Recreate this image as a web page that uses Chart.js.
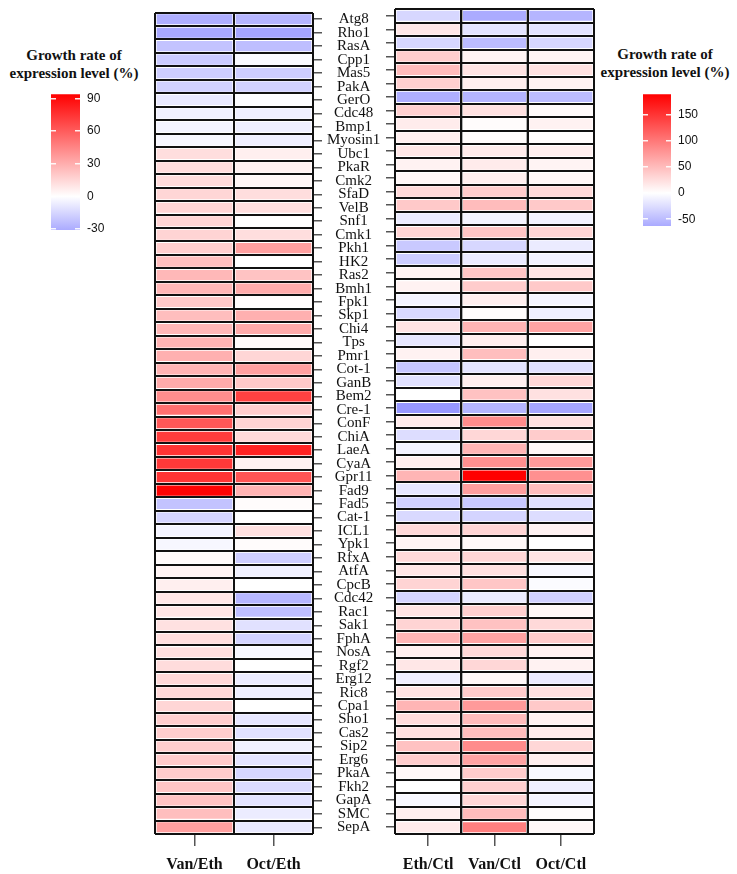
<!DOCTYPE html>
<html>
<head>
<meta charset="utf-8">
<script src="https://cdn.jsdelivr.net/npm/chart.js@4.4.1/dist/chart.umd.min.js"></script>
<style>
  body { margin: 0; background: #fff; }
  #page { position: relative; width: 737px; height: 874px; }
  .box { position: absolute; }
  .ttl { position: absolute; font: bold 15px "Liberation Serif", "Times New Roman", serif; line-height: 18px; text-align: center; color: #111; }
</style>
</head>
<body>
<div id="page">
  <div class="ttl" style="left:0; top:46px; width:148px;">Growth rate of<br>expression level (%)</div>
  <div class="ttl" style="left:600px; top:45px; width:130px;">Growth rate of<br>expression level (%)</div>
  <div class="box" style="left:0; top:80px; width:148px; height:165px"><canvas id="legLeft"></canvas></div>
  <div class="box" style="left:600px; top:80px; width:137px; height:165px"><canvas id="legRight"></canvas></div>
  <div class="box" style="left:140px; top:0; width:250px; height:874px"><canvas id="heatLeft"></canvas></div>
  <div class="box" style="left:380px; top:0; width:220px; height:874px"><canvas id="heatRight"></canvas></div>
</div>
<script>
const genes = ['Atg8','Rho1','RasA','Cpp1','Mas5','PakA','GerO','Cdc48','Bmp1','Myosin1',
  'Ubc1','PkaR','Cmk2','SfaD','VelB','Snf1','Cmk1','Pkh1','HK2','Ras2',
  'Bmh1','Fpk1','Skp1','Chi4','Tps','Pmr1','Cot-1','GanB','Bem2','Cre-1',
  'ConF','ChiA','LaeA','CyaA','Gpr11','Fad9','Fad5','Cat-1','ICL1','Ypk1',
  'RfxA','AtfA','CpcB','Cdc42','Rac1','Sak1','FphA','NosA','Rgf2','Erg12',
  'Ric8','Cpa1','Sho1','Cas2','Sip2','Erg6','PkaA','Fkh2','GapA','SMC','SepA'];

// left panel (%)
const vanEth = [-30,-32,-22,-19,-18,-17,-8,-5,-4,-3,
  12,13,13,15,16,16,16,18,24,26,
  27,20,24,26,28,29,28,31,42,53,
  62,72,75,73,75,93,-22,-16,-4,-3,
  2,4,6,9,10,11,12,12,13,14,
  14,15,18,18,18,19,19,21,22,24,35];
const octEth = [-27,-33,-24,-2,-18,-17,-1,-6,-6,-6,
  6,5,3,12,12,0,12,35,0,22,
  31,1,29,31,2,15,35,20,70,18,
  16,14,81,5,63,28,1,0,11,1,
  -18,-5,0,-27,-24,-11,-16,-3,0,-7,
  -6,0,-9,-11,-5,-10,-15,-13,-10,-7,-8];

// right panel (%)
const ethCtl = [-30,18,-30,37,50,35,-60,35,14,12,
  18,10,6,28,40,-15,32,-40,-38,10,
  10,-8,-28,20,-18,10,-42,-22,0,-77,
  15,-25,-10,12,55,-18,-35,-28,28,8,
  28,18,32,-32,20,32,55,12,18,-12,
  20,55,25,22,45,38,6,0,-5,12,15];
const vanCtl = [-62,-20,-50,8,20,12,-55,22,2,2,
  14,15,12,38,50,-8,42,-30,-15,42,
  38,12,2,55,12,48,-20,12,45,-55,
  85,30,55,82,188,72,-40,-32,32,5,
  30,22,42,-15,35,45,68,28,30,5,
  38,75,50,48,85,68,38,35,30,50,95];
const octCtl = [-55,-20,-30,8,22,10,-50,4,10,2,
  12,8,6,28,40,-10,32,-15,-10,20,
  40,-8,-12,68,0,12,-22,30,22,-66,
  22,38,5,75,82,48,-22,-25,10,0,
  20,-5,-3,-35,5,28,38,10,10,-15,
  22,40,10,15,30,12,-5,-12,-8,2,5];

const leftCols = ['Van/Eth', 'Oct/Eth'];
const rightCols = ['Eth/Ctl', 'Van/Ctl', 'Oct/Ctl'];

// colour key ranges and tick labels
const leftRange = [-31, 94];
const leftTicks = [-30, 0, 30, 60, 90];
const rightRange = [-63, 189];
const rightTicks = [-50, 0, 50, 100, 150];

const serif = '"Liberation Serif", "Times New Roman", serif';

function cellColor(v, max) {
  const t = Math.min(Math.abs(v) / max, 1);
  const c = Math.round(255 * (1 - t));
  return v >= 0 ? `rgb(255,${c},${c})` : `rgb(${c},${c},255)`;
}

function heatChart(id, series, colNames, max, labelSide) {
  const withLabels = labelSide === 'right';
  // coloured cells with a thin white rim
  const fills = series.map(vals => ({
    data: genes.map(() => 1),
    stack: 'fill',
    order: 1,
    grouped: false,
    backgroundColor: vals.map(v => cellColor(v, max)),
    borderColor: '#fff',
    borderWidth: 2,
    borderSkipped: false,
    barPercentage: 1,
    categoryPercentage: 1
  }));
  // black side borders of each column, drawn on top
  const frames = series.map(() => ({
    data: genes.map(() => 1),
    stack: 'frame',
    order: 0,
    grouped: false,
    backgroundColor: 'rgba(0,0,0,0)',
    borderColor: '#111',
    borderWidth: { left: 1, right: 1, top: 0, bottom: 0 },
    borderSkipped: false,
    inflateAmount: 0,
    barPercentage: 1,
    categoryPercentage: 1
  }));

  return new Chart(document.getElementById(id), {
    type: 'bar',
    data: { labels: genes, datasets: [...frames, ...fills] },
    options: {
      indexAxis: 'y',
      responsive: true,
      maintainAspectRatio: false,
      animation: false,
      layout: { padding: withLabels ? { left: 15, top: 9 } : { right: 6, top: 9 } },
      plugins: { legend: { display: false }, tooltip: { enabled: false } },
      scales: {
        x: { type: 'linear', stacked: true, min: 0, max: series.length, display: false },
        // outer frame lines
        xGrid: {
          type: 'category', labels: colNames, position: 'top', offset: true,
          grid: { offset: true, color: '#111', lineWidth: 2, drawTicks: false, z: 1 },
          border: { display: false },
          ticks: { display: false, autoSkip: false },
          afterFit: s => { s.height = 0; }
        },
        // column names at the bottom
        xLab: {
          type: 'category', labels: colNames, position: 'bottom', offset: true,
          grid: { offset: false, drawOnChartArea: false, tickLength: 12, tickColor: '#555', lineWidth: 1.5 },
          border: { display: false },
          ticks: { font: { family: serif, size: 16, weight: 'bold' }, color: '#111', padding: 9, maxRotation: 0 },
          afterFit: s => { s.height = 40; }
        },
        // gene names with ticks
        y: {
          type: 'category', stacked: true, position: labelSide, offset: true,
          grid: { offset: false, drawOnChartArea: false, tickLength: 9, tickColor: '#555', lineWidth: 1.5 },
          border: { display: false },
          ticks: { display: withLabels, autoSkip: false, crossAlign: 'center', padding: 5, color: '#111',
                   font: { family: serif, size: 15, lineHeight: 1 } },
          afterFit: s => { s.width = withLabels ? 77 : 15; }
        },
        // row borders
        yGrid: {
          type: 'category', position: 'left', offset: true,
          grid: { offset: true, color: '#111', lineWidth: 2, drawTicks: false, z: 1 },
          border: { display: false },
          ticks: { display: false, autoSkip: false },
          afterFit: s => { s.width = 0; }
        }
      }
    }
  });
}

function colorBar(id, range, tickVals, dash, pad) {
  const [lo, hi] = range;
  return new Chart(document.getElementById(id), {
    type: 'bar',
    data: {
      labels: [''],
      datasets: [{
        data: [[lo, hi]],
        borderWidth: 0,
        barPercentage: 1,
        categoryPercentage: 1,
        backgroundColor: ctx => {
          const chart = ctx.chart;
          const y = chart.scales.y;
          if (!chart.chartArea || !y) return '#fff';
          const g = chart.ctx.createLinearGradient(0, y.getPixelForValue(lo), 0, y.getPixelForValue(hi));
          g.addColorStop(0, cellColor(lo, hi));
          g.addColorStop((0 - lo) / (hi - lo), '#fff');
          g.addColorStop(1, cellColor(hi, hi));
          return g;
        }
      }]
    },
    options: {
      responsive: true,
      maintainAspectRatio: false,
      animation: false,
      layout: { padding: pad },
      plugins: { legend: { display: false }, tooltip: { enabled: false } },
      scales: {
        x: { display: false },
        y: {
          type: 'linear', min: lo, max: hi, position: 'right',
          afterBuildTicks: s => { s.ticks = tickVals.map(v => ({ value: v })); },
          ticks: { padding: 7, color: '#111', font: { family: '"Liberation Sans", Arial, sans-serif', size: 12 } },
          grid: { color: 'rgba(255,255,255,0.9)', lineWidth: 1.5, drawTicks: false, z: 1 },
          border: { display: false, dash: dash },
          afterFit: s => { s.width = 40; }
        }
      }
    }
  });
}

heatChart('heatLeft', [vanEth, octEth], leftCols, leftRange[1], 'right');
heatChart('heatRight', [ethCtl, vanCtl, octCtl], rightCols, rightRange[1], 'left');
colorBar('legLeft', leftRange, leftTicks, [5, 19], { left: 51, right: 28, top: 8, bottom: 15 });
colorBar('legRight', rightRange, rightTicks, [5, 18], { left: 43, right: 26, top: 10, bottom: 19 });
</script>
</body>
</html>
